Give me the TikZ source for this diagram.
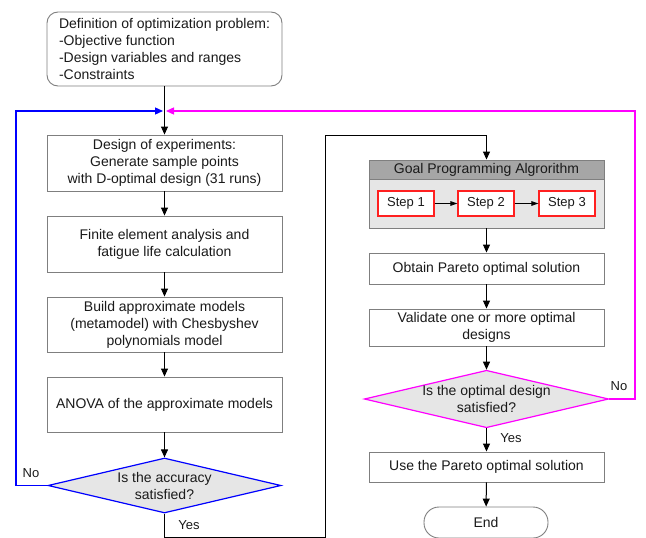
\documentclass[tikz,border=0pt]{standalone}
\usepackage{fontspec}
\setmainfont{Liberation Sans}
\usetikzlibrary{shapes.geometric,arrows.meta}
\definecolor{txt}{HTML}{1A1A1A}
\definecolor{bordergray}{HTML}{7F7F7F}
\definecolor{lightfill}{HTML}{E6E6E6}
\definecolor{headfill}{HTML}{A6A6A6}
\definecolor{myblue}{HTML}{0000FF}
\definecolor{mymagenta}{HTML}{FF00FF}
\definecolor{stepred}{HTML}{FF2020}
\tikzset{
  box/.style={draw=bordergray, line width=0.9pt, fill=white, minimum width=235pt, inner sep=0pt, align=center, text=txt, font=\fontsize{14}{17}\selectfont},
  stepbox/.style={draw=stepred, line width=1.1pt, fill=white, minimum width=56pt, minimum height=25pt, inner sep=0pt, text=txt, font=\fontsize{13}{15}\selectfont},
  decision/.style={diamond, aspect=4.25, fill=lightfill, line width=1.2pt, minimum width=233pt, minimum height=55pt, inner sep=0pt, align=center, text=txt, font=\fontsize{14}{17}\selectfont},
  flow/.style={line width=1pt, -{Triangle[length=8pt,width=7pt]}},
  loopflow/.style={line width=1.3pt, -{Triangle[length=8pt,width=7pt]}},
  smallflow/.style={line width=0.8pt, -{Triangle[length=7pt,width=4.5pt]}},
  lbl/.style={text=txt, font=\fontsize{13}{15}\selectfont, inner sep=0pt},
}
\begin{document}
\begin{tikzpicture}[x=1pt,y=-1pt]
\useasboundingbox (0,0) rectangle (646,538);
% left column
\node[box, rounded corners=11pt, minimum height=74pt, align=left] (def) at (164.5,49) {Definition of optimization problem:\\ -Objective function\\ -Design variables and ranges\\ -Constraints};
\coordinate (m) at (164.5,111);
\node[box, minimum height=56pt] (doe) at (164.5,163) {Design of experiments:\\Generate sample points\\with D-optimal design (31 runs)};
\node[box, minimum height=56pt] (fea) at (164.5,244) {Finite element analysis and\\fatigue life calculation};
\node[box, minimum height=55pt] (build) at (164.5,324.5) {Build approximate models\\(metamodel) with Chesbyshev\\polynomials model};
\node[box, minimum height=55pt] (anova) at (164.5,404.5) {ANOVA of the approximate models};
\node[decision, draw=myblue] (acc) at (164.5,485.5) {Is the accuracy\\satisfied?};
% right column
\node[box, fill=lightfill, minimum height=68pt] (gp) at (486.5,194) {};
\node[draw=bordergray, line width=0.9pt, fill=headfill, minimum width=235pt, minimum height=19pt, inner sep=0pt, text=txt, font=\fontsize{14}{17}\selectfont] (gphead) at (486.5,169.5) {Goal Programming Algrorithm};
\node[stepbox] (s1) at (406,203.5) {Step 1};
\node[stepbox] (s2) at (486,203.5) {Step 2};
\node[stepbox] (s3) at (567,203.5) {Step 3};
\node[box, minimum height=31pt] (obtain) at (486.5,268.5) {Obtain Pareto optimal solution};
\node[box, minimum height=37pt] (valid) at (486.5,327.5) {Validate one or more optimal\\designs};
\node[decision, draw=mymagenta] (opt) at (486.5,399) {Is the optimal design\\satisfied?};
\node[box, minimum height=30pt] (use) at (486.5,467) {Use the Pareto optimal solution};
\node[box, rounded corners=15pt, minimum width=124pt, minimum height=31pt] (end) at (486,522.5) {End};
% connectors
\draw[flow] (def.south) -- (doe.north);
\draw[flow] (doe) -- (fea);
\draw[flow] (fea) -- (build);
\draw[flow] (build) -- (anova);
\draw[flow] (anova) -- (acc);
\draw[loopflow, color=myblue, shorten >=1.5pt] (acc.west) -- (16,485.5) -- (16,111) -- (m);
\draw[loopflow, color=mymagenta, shorten >=1.5pt] (opt.east) -- (635,399) -- (635,111) -- (m);
\draw[flow] (acc.south) -- (164.5,537) -- (325,537) -- (325,135) -- (486.5,135) -- (gphead.north);
\draw[smallflow] (s1) -- (s2);
\draw[smallflow] (s2) -- (s3);
\draw[flow] (gp.south) -- (obtain.north);
\draw[flow] (obtain) -- (valid);
\draw[flow] (valid) -- (opt);
\draw[flow] (opt) -- (use);
\draw[flow] (use) -- (end);
% labels
\node[lbl] (no1) at (31,473) {No};
\node[lbl] (yes1) at (189,525.5) {Yes};
\node[lbl] (no2) at (619,386) {No};
\node[lbl] (yes2) at (511,438) {Yes};
\end{tikzpicture}
\end{document}
